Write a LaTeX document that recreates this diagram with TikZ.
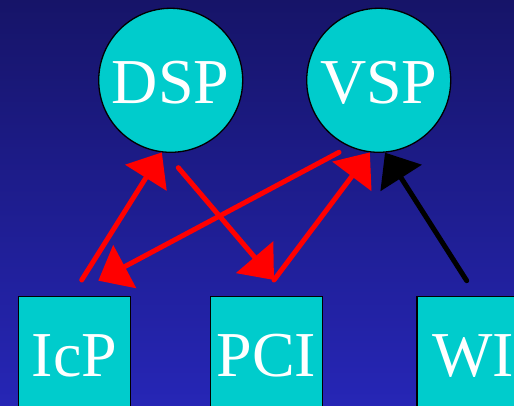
\documentclass[tikz,border=0pt]{standalone}
\usepackage{fontspec}
\setmainfont{Liberation Serif}
\usetikzlibrary{arrows.meta}

\definecolor{bgtop}{RGB}{22,20,104}
\definecolor{bgbot}{RGB}{38,38,182}
\definecolor{unitfill}{RGB}{0,204,204}
\definecolor{linkred}{RGB}{255,0,0}

\tikzset{
  unit/.style={draw=black, line width=1.3pt, fill=unitfill, text=white,
    font=\fontsize{64}{64}\selectfont, text depth=0pt},
  proc/.style={unit, circle, minimum size=144pt, inner sep=0pt, text height=47pt},
  port/.style={unit, rectangle, anchor=north, minimum width=112.4pt,
    inner xsep=0pt, inner ysep=36pt, text height=44pt},
  link/.style={line width=5pt, line cap=round,
    -{Triangle[length=30pt,width=48pt]}},
}

\begin{document}
\begin{tikzpicture}[x=1pt,y=1pt]
  \useasboundingbox (0,0) rectangle (514,406);
  \clip (0,0) rectangle (514,406);
  \shade[top color=bgtop, bottom color=bgbot] (0,0) rectangle (514,406);

  % processors
  \node[proc] (DSP) at (170.7,325.7) {DSP};
  \node[proc] (VSP) at (378.7,325.7) {VSP};

  % bus interfaces
  \node[port] (IcP) at (74.5,110.3) {IcP};
  \node[port] (PCI) at (266.35,110.3) {PCI};
  \node[port] (WI)  at (473.3,110.3) {WI};

  % free ends of the links
  \coordinate (icpA) at ([shift={(7.2,15.7)}]IcP.north);
  \coordinate (icpB) at ([shift={(23.8,15)}]IcP.north);
  \coordinate (pciA) at ([shift={(7.65,15.7)}]PCI.north);
  \coordinate (wiA)  at ([shift={(-6.6,15)}]WI.north);
  \coordinate (dspA) at ([shift={(7.6,-87.4)}]DSP.center);
  \coordinate (vspA) at ([shift={(-39.7,-72)}]VSP.center);

  % links
  \draw[link, linkred] (icpA) -- (DSP.263);
  \draw[link, linkred] (dspA) -- (pciA);
  \draw[link, linkred] (vspA) -- (icpB);
  \draw[link, linkred] (pciA) -- (VSP.263);
  \draw[link, black]   (wiA)  -- (VSP.275.5);
\end{tikzpicture}
\end{document}
